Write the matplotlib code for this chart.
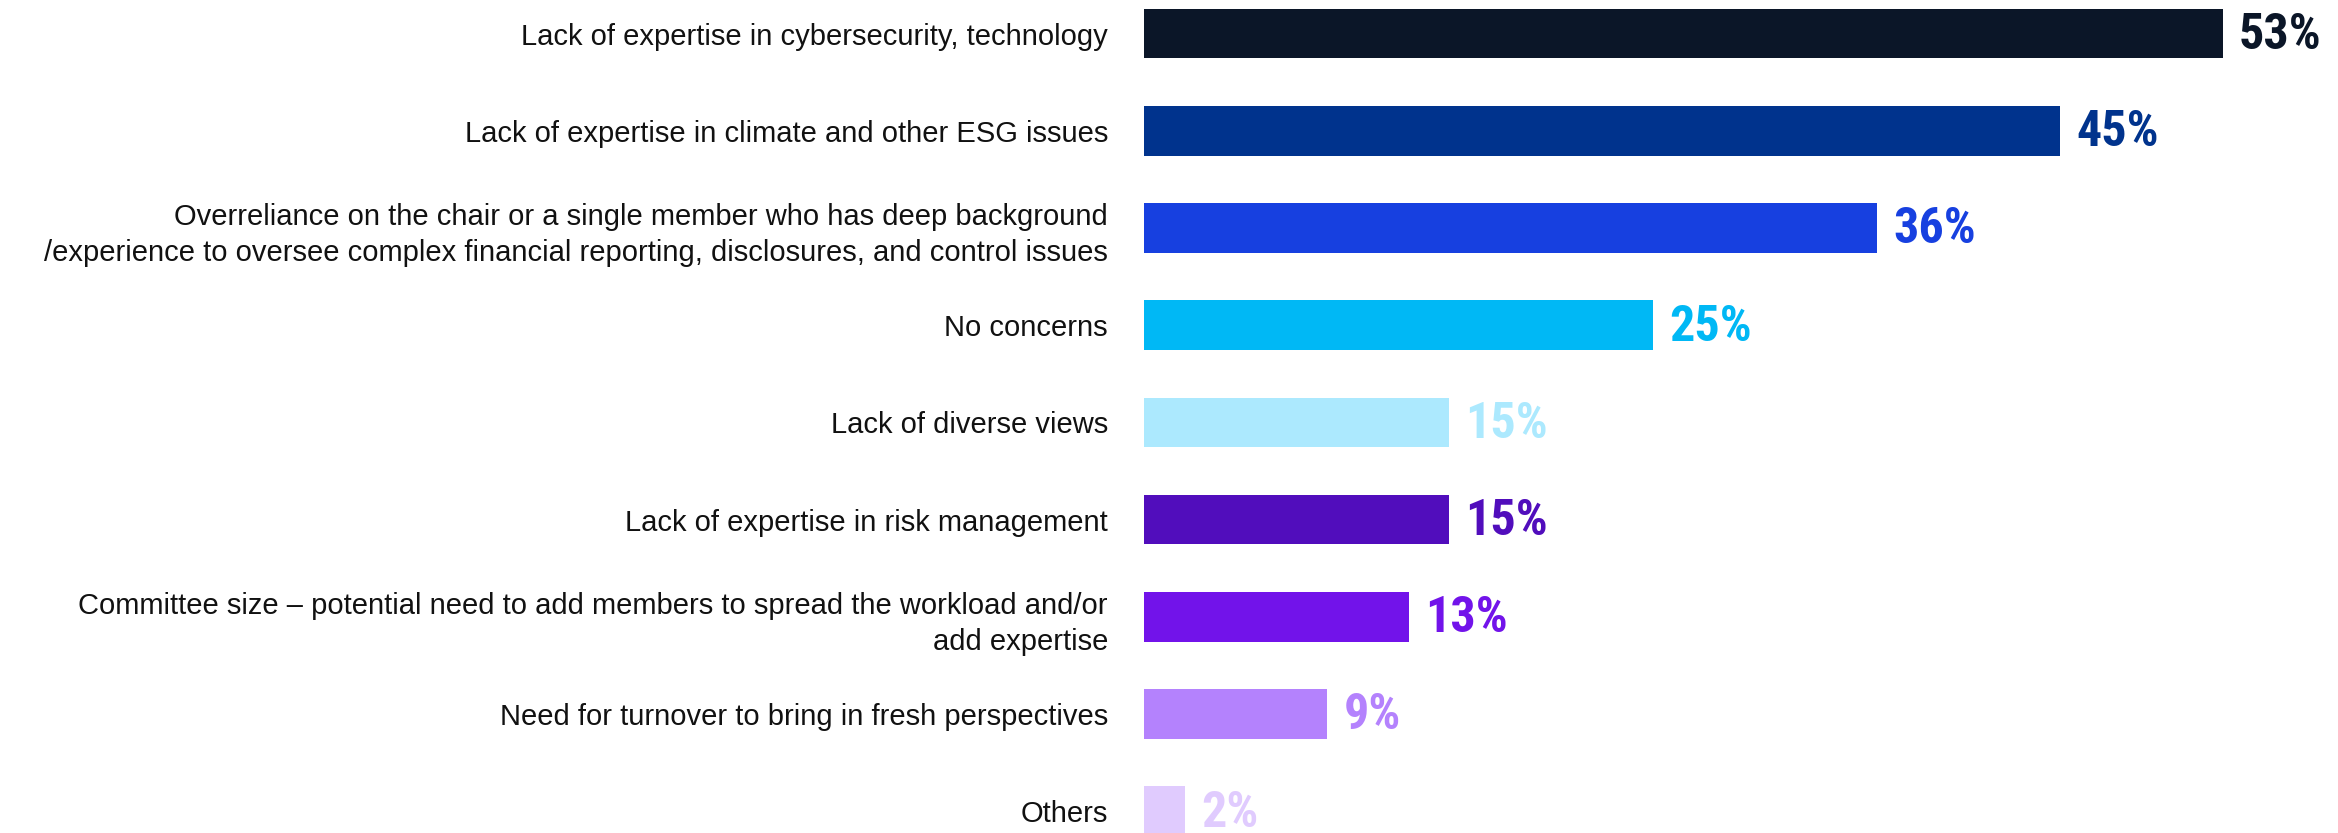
import matplotlib
matplotlib.use('Agg')
import matplotlib.pyplot as plt

categories = [
    'Lack of expertise in cybersecurity, technology',
    'Lack of expertise in climate and other ESG issues',
    'Overreliance on the chair or a single member who has deep background\n'
    '/experience to oversee complex financial reporting, disclosures, and control issues',
    'No concerns',
    'Lack of diverse views',
    'Lack of expertise in risk management',
    'Committee size \u2013 potential need to add members to spread the workload and/or\n'
    'add expertise',
    'Need for turnover to bring in fresh perspectives',
    'Others',
]
values = [53, 45, 36, 25, 15, 15, 13, 9, 2]
bar_colors = ['#0b1628', '#00338d', '#1740e0', '#00b8f5', '#ace9fe',
              '#510dbc', '#7213ea', '#b482fd', '#e0cbfe']

fig = plt.figure(figsize=(23.38, 8.33), dpi=100)
ax = fig.add_axes([1144 / 2338, 0, 1 - 1144 / 2338, 1])

pos = list(range(len(values)))
ax.barh(pos, values, height=0.51, color=bar_colors)

# percentage labels just past the end of each bar
for y, v, c in zip(pos, values, bar_colors):
    ax.text(v + 0.8, y + 0.02, f'{v}%', color=c, va='center', ha='left',
            fontsize=36, fontweight='bold', fontstretch='condensed',
            family=['Roboto Condensed', 'Liberation Sans Narrow',
                    'DejaVu Sans'])

ax.set_xlim(0, 58.67)
ax.set_ylim(8.225, -0.345)
ax.set_yticks(pos)
ax.set_yticklabels(categories, fontsize=21, family='Liberation Sans',
                   color='#111111', linespacing=1.38)
ax.tick_params(axis='y', length=0, pad=26)
ax.set_xticks([])
for s in ax.spines.values():
    s.set_visible(False)

fig.savefig('out.png', dpi=100)
